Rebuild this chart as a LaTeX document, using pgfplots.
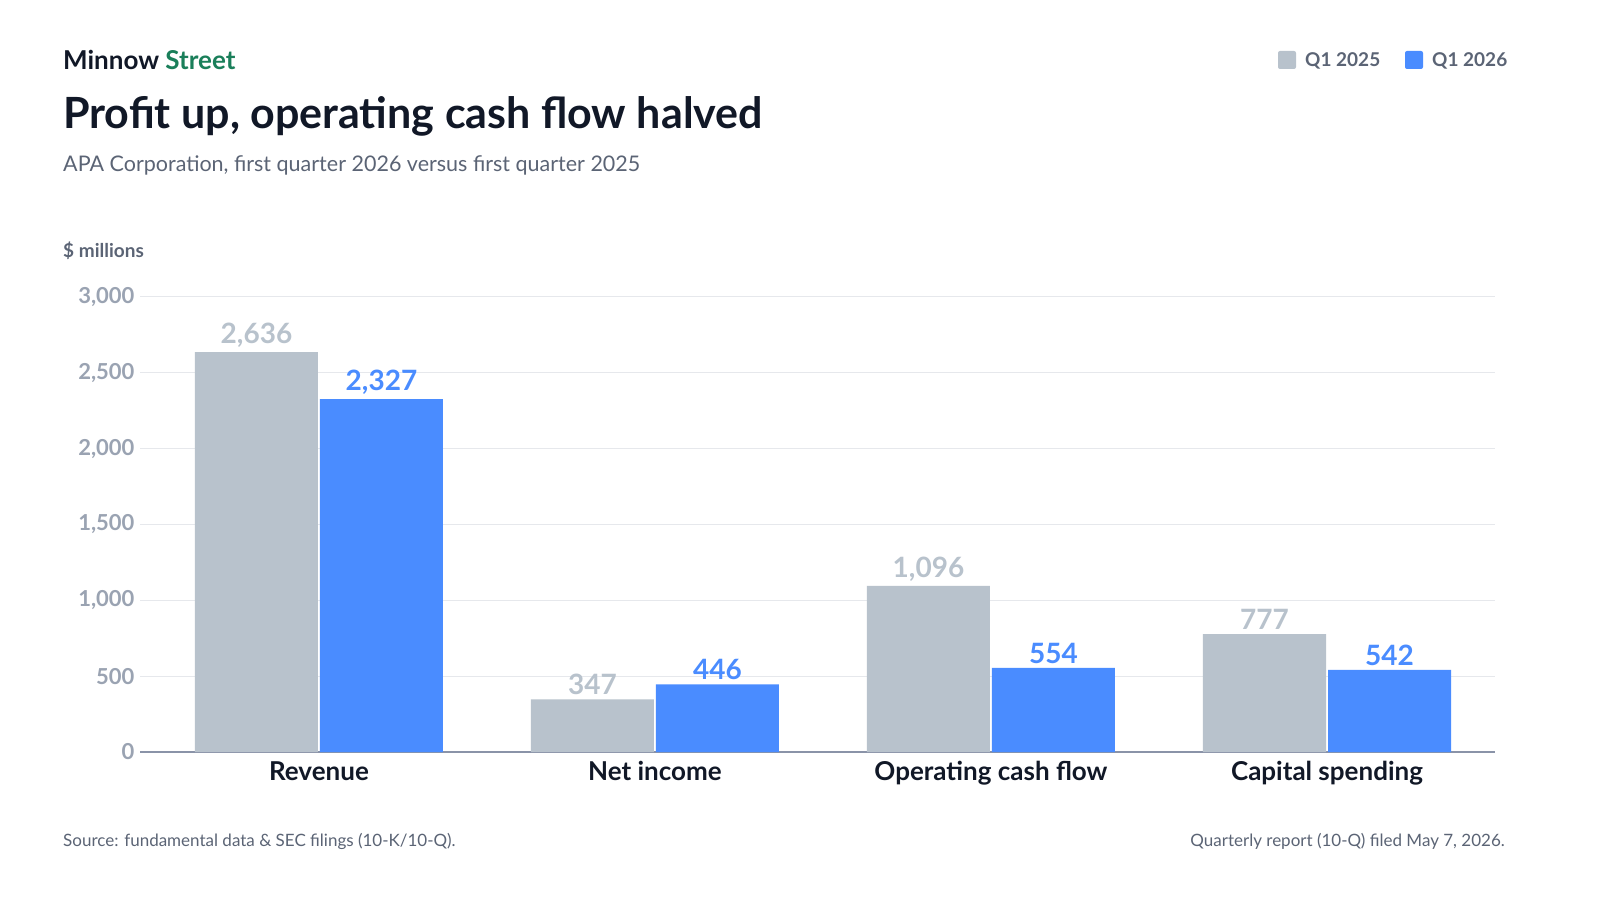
\documentclass[border=0pt]{standalone}
\usepackage{pgfplots}
\pgfplotsset{compat=1.18}
\usepackage{fontspec}
\setmainfont{Lato}
\definecolor{cgrey}{HTML}{B8C2CC}
\definecolor{cblue}{HTML}{4A8CFF}
\definecolor{ctext}{HTML}{111827}
\definecolor{csub}{HTML}{5B6475}
\definecolor{ctick}{HTML}{9AA3B2}
\definecolor{cgreen}{HTML}{1A7F5A}
\definecolor{cgrid}{HTML}{E6E8EC}
\definecolor{caxis}{HTML}{8A93A8}
\begin{document}
\begin{tikzpicture}[x=1pt,y=1pt]
\fill[white] (0,0) rectangle (1600,900);
\node[anchor=base west,font=\fontsize{26}{30}\selectfont\bfseries,text=ctext,inner sep=0] at (63,830) {Minnow \textcolor{cgreen}{Street}};
\node[anchor=base west,font=\fontsize{43}{50}\selectfont\bfseries,text=ctext,inner sep=0] at (63,771) {Profit up, operating cash flow halved};
\node[anchor=base west,font=\fontsize{21.5}{26}\selectfont,text=csub,inner sep=0] at (63,728) {APA Corporation, first quarter 2026 versus first quarter 2025};
\node[anchor=base west,font=\fontsize{19}{22}\selectfont\bfseries,text=csub,inner sep=0] at (63,642) {\$ millions};
\fill[cgrey,rounded corners=2pt] (1278,831) rectangle (1296,849);
\node[anchor=base west,font=\fontsize{19}{22}\selectfont\bfseries,text=csub,inner sep=0] at (1305,833) {Q1 2025};
\fill[cblue,rounded corners=2pt] (1405,831) rectangle (1423,849);
\node[anchor=base west,font=\fontsize{19}{22}\selectfont\bfseries,text=csub,inner sep=0] at (1432,833) {Q1 2026};
\node[anchor=base west,font=\fontsize{17}{20}\selectfont,text=csub,inner sep=0] at (63,54) {Source: fundamental data \& SEC filings (10-K/10-Q).};
\node[anchor=base east,font=\fontsize{17}{20}\selectfont,text=csub,inner sep=0] at (1505,54) {Quarterly report (10-Q) filed May 7, 2026.};
\begin{axis}[
  at={(140pt,148pt)}, anchor=south west,
  scale only axis, width=1355pt, height=455pt,
  xmin=-0.5327, xmax=3.5, ymin=0, ymax=3000,
  ybar, bar width=123pt,
  xtick=data, xticklabels={Revenue,Net income,Operating cash flow,Capital spending},
  ytick={0,500,1000,1500,2000,2500,3000},
  ymajorgrids, grid style={cgrid,line width=1pt},
  axis x line*=bottom, axis y line*=left,
  x axis line style={caxis,line width=1.5pt,-},
  y axis line style={draw=none},
  major tick length=0pt,
  xticklabel style={font=\fontsize{26}{30}\selectfont\bfseries,text=ctext,yshift=-6pt},
  yticklabel style={font=\fontsize{22}{26}\selectfont\bfseries,text=ctick,xshift=-2pt},
  /pgf/number format/assume math mode=true,
  /pgf/number format/1000 sep={,},
  scaled y ticks=false,
  nodes near coords,
  nodes near coords style={font=\fontsize{28}{32}\selectfont\bfseries,/pgf/number format/1000 sep={,},yshift=1pt},
  clip=false,
]
\addplot[fill=cgrey,draw=none,bar shift=-62.5pt,nodes near coords style={text=cgrey}] coordinates {(0,2636) (1,347) (2,1096) (3,777)};
\addplot[fill=cblue,draw=none,bar shift=62.5pt,nodes near coords style={text=cblue}] coordinates {(0,2327) (1,446) (2,554) (3,542)};
\end{axis}
\pgfresetboundingbox
\path[use as bounding box] (0,0) rectangle (1600,900);
\end{tikzpicture}
\end{document}
